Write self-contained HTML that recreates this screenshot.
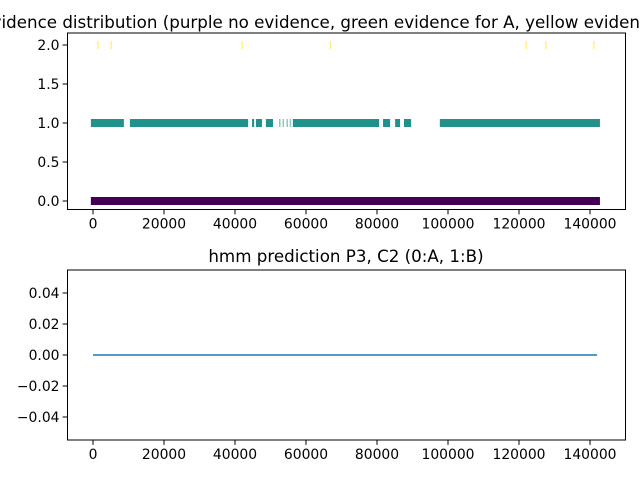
<!DOCTYPE html>
<html><head><meta charset="utf-8"><style>
body{margin:0;background:#fff}
svg{display:block;font-family:"DejaVu Sans","Liberation Sans",sans-serif}
</style></head><body>
<svg id="c" width="640" height="480"></svg>
<script>
// data
const noEvidence = [[-0.6, 142.8]]; // thousands
const evidenceA = [[-0.6,8.7],[10.4,43.7],[44.8,45.4],[45.9,47.6],[48.7,50.7],[56.3,80.6],[81.7,83.7],[85.1,86.5],[87.6,89.6],[97.7,142.8]];
const evidenceALight = [52.4,53.4,54.5,55.4];
const evidenceB = [1.4,5.1,42,66.8,122,127.6,141.1];
const predX = [0, 142];
const predY = [0, 0];
const xTicks = [0,20000,40000,60000,80000,100000,120000,140000];
const topYTicks = [0,0.5,1,1.5,2];
const botYTicks = [-0.04,-0.02,0,0.02,0.04];

const NS="http://www.w3.org/2000/svg";
const svg=document.getElementById('c');
function el(t,a,p){const e=document.createElementNS(NS,t);for(const k in a)e.setAttribute(k,a[k]);(p||svg).appendChild(e);return e;}
const L=67.5,R=625.5;
const X=v=>93+v*3.55/1000;
const topT=33,topB=209.5,botT=270,botB=440;
const Yt=v=>201-v*78;
const Yb=v=>355-v*1550;

const gT=el('g',{});


noEvidence.forEach(s=>{const r=el('rect',{x:X(s[0]*1000),y:Yt(0)-4,width:X(s[1]*1000)-X(s[0]*1000),height:8,fill:'#440154'},gT);
});
evidenceA.forEach(s=>{const r=el('rect',{x:X(s[0]*1000),y:Yt(1)-4,width:X(s[1]*1000)-X(s[0]*1000),height:8,fill:'#21918c'},gT);
});
evidenceALight.forEach(v=>{const r=el('rect',{x:X(v*1000),y:Yt(1)-4,width:1.5,height:8,fill:'#21918c',opacity:0.5},gT);
});
evidenceB.forEach(v=>{const r=el('rect',{x:X(v*1000)-0.5,y:Yt(2)-4,width:1.2,height:8,fill:'#fde725',opacity:0.7},gT);
});
el('rect',{x:L,y:topT,width:R-L,height:topB-topT,fill:'none',stroke:'#000','stroke-width':1},gT);

const gB=el('g',{});


const ln=el('line',{x1:X(predX[0]*1000),y1:Yb(predY[0]),x2:X(predX[1]*1000),y2:Yb(predY[1]),stroke:'#1f77b4','stroke-width':1.5},gB);

el('rect',{x:L,y:botT,width:R-L,height:botB-botT,fill:'none',stroke:'#000','stroke-width':1},gB);

function xAxis(b){xTicks.forEach(t=>{el('line',{x1:X(t),x2:X(t),y1:b,y2:b+4.9,stroke:'#000'});
const tx=el('text',{x:X(t),y:b+19,'font-size':13.9,'text-anchor':'middle'});tx.textContent=t;
});}
xAxis(topB);xAxis(botB);
topYTicks.forEach(t=>{el('line',{x1:L-4.9,x2:L,y1:Yt(t),y2:Yt(t),stroke:'#000'});
const tx=el('text',{x:L-8,y:Yt(t)+5,'font-size':13.9,'text-anchor':'end'});tx.textContent=t.toFixed(1);
});
botYTicks.forEach(t=>{el('line',{x1:L-4.9,x2:L,y1:Yb(t),y2:Yb(t),stroke:'#000'});
const tx=el('text',{x:L-8,y:Yb(t)+5,'font-size':13.9,'text-anchor':'end'});tx.textContent=(t<0?'\u2212':'')+Math.abs(t).toFixed(2);
});

const t1=el('text',{x:346,y:28,'font-size':16.7,'text-anchor':'middle'});
t1.textContent='Evidence distribution (purple no evidence, green evidence for A, yellow evidence for B)';

const t2=el('text',{x:346,y:262,'font-size':16.7,'text-anchor':'middle'});
t2.textContent='hmm prediction P3, C2 (0:A, 1:B)';

</script>
</body></html>
